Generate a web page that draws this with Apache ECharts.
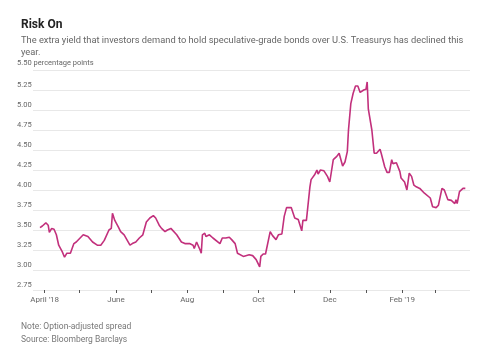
<!DOCTYPE html>
<html>
<head>
<meta charset="utf-8">
<script src="https://cdn.jsdelivr.net/npm/echarts@6/dist/echarts.min.js"></script>
<style>html,body{margin:0;padding:0;background:#fff}#c{width:500px;height:346px}</style>
</head>
<body>
<div id="c"></div>
<script>
var dates = ['2018-03-28','2018-03-30','2018-04-02','2018-04-04','2018-04-05','2018-04-07','2018-04-09','2018-04-11','2018-04-13','2018-04-16',
'2018-04-18','2018-04-20','2018-04-23','2018-04-26','2018-04-28','2018-05-04','2018-05-08','2018-05-12','2018-05-16','2018-05-19',
'2018-05-22','2018-05-26','2018-05-28','2018-05-29','2018-05-31','2018-06-03','2018-06-05','2018-06-08','2018-06-13','2018-06-15',
'2018-06-18','2018-06-21','2018-06-24','2018-06-27','2018-06-30','2018-07-03','2018-07-05','2018-07-08','2018-07-10','2018-07-13',
'2018-07-15','2018-07-18','2018-07-23','2018-07-27','2018-07-30','2018-08-03','2018-08-06','2018-08-07','2018-08-09','2018-08-12',
'2018-08-13','2018-08-14','2018-08-16','2018-08-17','2018-08-20','2018-08-23','2018-08-29','2018-08-31','2018-09-03','2018-09-06',
'2018-09-08','2018-09-11','2018-09-13','2018-09-18','2018-09-23','2018-09-26','2018-09-29','2018-10-02','2018-10-03','2018-10-05',
'2018-10-07','2018-10-11','2018-10-13','2018-10-16','2018-10-18','2018-10-21','2018-10-23','2018-10-25','2018-10-29','2018-11-01',
'2018-11-04','2018-11-07','2018-11-08','2018-11-11','2018-11-14','2018-11-15','2018-11-18','2018-11-20','2018-11-21','2018-11-23',
'2018-11-26','2018-11-29','2018-12-01','2018-12-04','2018-12-07','2018-12-09','2018-12-12','2018-12-14','2018-12-16','2018-12-17',
'2018-12-19','2018-12-21','2018-12-23','2018-12-25','2018-12-27','2018-12-30','2019-01-01','2019-01-02','2019-01-03','2019-01-06',
'2019-01-08','2019-01-10','2019-01-13','2019-01-14','2019-01-17','2019-01-19','2019-01-21','2019-01-23','2019-01-24','2019-01-27',
'2019-01-30','2019-01-31','2019-02-03','2019-02-05','2019-02-07','2019-02-09','2019-02-11','2019-02-13','2019-02-16','2019-02-20',
'2019-02-25','2019-02-27','2019-03-02','2019-03-04','2019-03-07','2019-03-09','2019-03-12','2019-03-15','2019-03-18','2019-03-19',
'2019-03-20','2019-03-22','2019-03-25','2019-03-27'];

var spread = [3.53,3.55,3.59,3.56,3.47,3.52,3.51,3.44,3.31,3.23,
3.16,3.21,3.21,3.33,3.35,3.44,3.42,3.35,3.31,3.31,
3.37,3.50,3.52,3.71,3.62,3.54,3.48,3.44,3.31,3.33,
3.35,3.40,3.44,3.60,3.65,3.68,3.65,3.56,3.52,3.48,
3.50,3.52,3.44,3.35,3.33,3.33,3.31,3.27,3.35,3.25,
3.21,3.44,3.46,3.42,3.44,3.40,3.33,3.40,3.40,3.41,
3.38,3.33,3.21,3.17,3.19,3.18,3.13,3.04,3.17,3.20,
3.20,3.48,3.43,3.38,3.44,3.45,3.67,3.78,3.78,3.65,
3.63,3.49,3.62,3.62,4.04,4.13,4.19,4.25,4.20,4.25,
4.24,4.17,4.10,4.38,4.42,4.46,4.30,4.35,4.48,4.75,
5.08,5.21,5.30,5.30,5.22,5.25,5.26,5.35,5.01,4.75,
4.46,4.46,4.51,4.46,4.29,4.22,4.22,4.38,4.33,4.34,
4.23,4.15,4.10,4.00,4.21,4.17,4.06,4.04,4.02,3.96,
3.90,3.79,3.78,3.81,4.02,4.00,3.88,3.87,3.83,3.88,
3.83,3.98,4.02,4.02];

var monthLabels = {3:"April '18", 5:'June', 7:'Aug', 9:'Oct', 11:'Dec', 1:"Feb '19"};
var yTopLabel = '5.50 percentage points';

var FONT = 'Roboto, "Noto Sans", sans-serif';
var chart = echarts.init(document.getElementById('c'), null, {renderer:'canvas'});
var seriesData = dates.map(function(d, i){ return [d, spread[i]]; });

chart.setOption({
  animation: false,
  backgroundColor: '#fff',
  title: [
    {text: 'Risk On', left: 16, top: 14, textStyle: {fontFamily: FONT, fontSize: 12, fontWeight: 'bold', color: '#222'}},
    {text: 'The extra yield that investors demand to hold speculative-grade bonds over U.S. Treasurys has declined this\nyear.', left: 16, top: 29,
      textStyle: {fontFamily: FONT, fontSize: 9.3, fontWeight: 'normal', color: '#666', lineHeight: 12.5}},
    {text: 'Note: Option-adjusted spread\nSource: Bloomberg Barclays', left: 16, top: 315,
      textStyle: {fontFamily: FONT, fontSize: 8.5, fontWeight: 'normal', color: '#777', lineHeight: 13}}
  ],
  grid: {left: 33, right: 30, top: 70, bottom: 56, containLabel: false},
  xAxis: {
    type: 'time',
    min: '2018-03-22',
    max: '2019-03-31',
    minInterval: 28 * 86400000,
    maxInterval: 31 * 86400000,
    axisLine: {show: false},
    axisTick: {show: true, length: 3, lineStyle: {color: '#555', width: 1}},
    splitLine: {show: false},
    axisLabel: {
      fontFamily: FONT, fontSize: 8, color: '#666', margin: 6,
      showMinLabel: false, showMaxLabel: false, hideOverlap: false,
      formatter: function (v) {
        var d = new Date(v);
        if (d.getDate() !== 1) return '';
        var m = d.getMonth();
        return monthLabels[m] || '';
      }
    }
  },
  yAxis: {
    type: 'value',
    min: 2.75, max: 5.5, interval: 0.25,
    axisLine: {show: false},
    axisTick: {show: false},
    splitLine: {show: true, lineStyle: {color: '#e8e8e8', width: 1}},
    axisLabel: {
      fontFamily: FONT, fontSize: 7.5, color: '#666', align: 'left', margin: 16,
      verticalAlign: 'bottom', padding: [0,0,1,0],
      formatter: function (v) {
        if (Math.abs(v - 5.5) < 1e-6) return '{top|' + yTopLabel + '}';
        return v.toFixed(2);
      },
      rich: {
        top: {fontFamily: FONT, fontSize: 7.5, color: '#666', backgroundColor: '#fff', padding: [0, 3, 2, 0]}
      }
    }
  },
  series: [{
    type: 'line',
    data: seriesData,
    showSymbol: false,
    lineStyle: {color: '#c2307c', width: 1.6},
    itemStyle: {color: '#c2307c'}
  }]
});
</script>
</body>
</html>
